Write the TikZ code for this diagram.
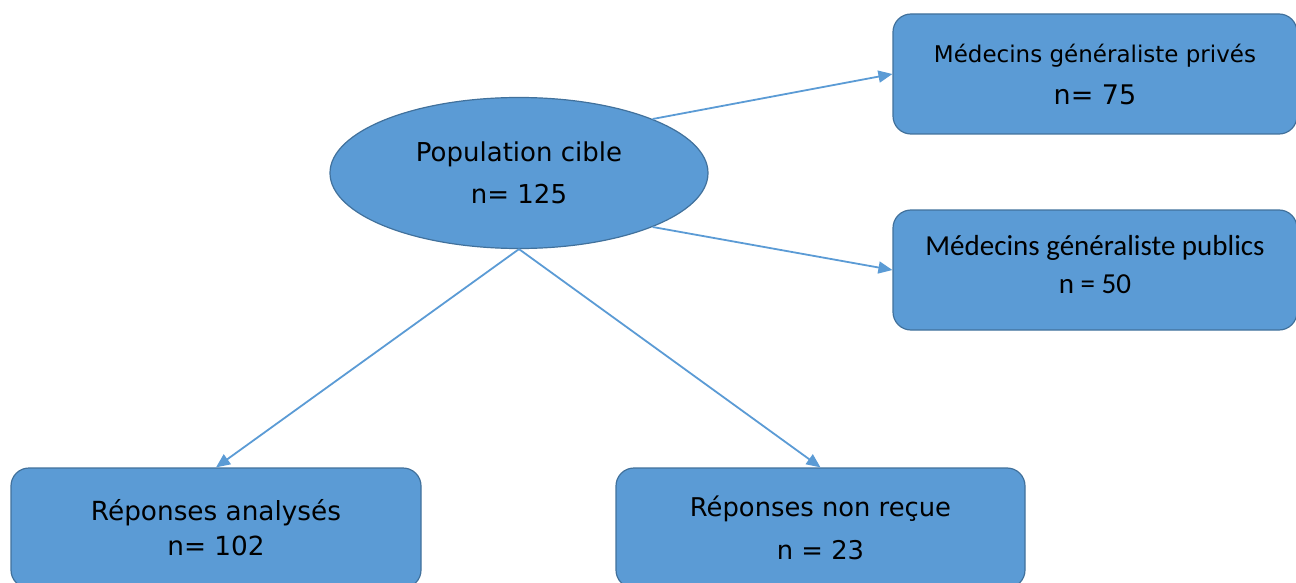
\documentclass[tikz,border=0pt]{standalone}
\usepackage{fontspec}
\setmainfont{DejaVu Sans}
\newfontfamily\calibri{Carlito}
\usepackage{tikz}
\usetikzlibrary{positioning, arrows.meta, shapes.geometric}
\definecolor{Box}{HTML}{5B9BD5}
\definecolor{BoxLine}{HTML}{41719C}

\begin{document}
\begin{tikzpicture}[
      x=1pt, y=1pt,
      card/.style={
        draw=BoxLine, line width=1.2pt, rounded corners=18pt,
        fill=Box, text=black, align=center,
        minimum width=404pt, minimum height=120pt, inner sep=0pt
      },
      bubble/.style={
        ellipse, draw=BoxLine, line width=1.2pt, fill=Box,
        align=center, minimum width=378pt, minimum height=151pt, inner sep=0pt
      },
      link/.style={
        draw=Box, line width=1.8pt, -{Triangle[length=14pt, width=12pt]}
      }
    ]
      \useasboundingbox (0,0) rectangle (1296,-583);
      \clip (0,0) rectangle (1296,-583);

      \node[bubble, font={\fontsize{26}{42}\selectfont}] (pop) at (519,-173)
        {Population cible\\ n= 125};
      \node[card, font={\fontsize{23}{42}\selectfont}] (priv) at (1095,-74)
        {Médecins généraliste privés\\ {\fontsize{27}{42}\selectfont n= 75}};
      \node[card, font={\calibri\fontsize{29}{38}\selectfont}] (pub) at (1095,-270)
        {Médecins généraliste publics\\ n = 50\rule[-12pt]{0pt}{0pt}};
      \node[card, minimum width=410pt, font={\fontsize{26.3}{35}\selectfont}] (ana) at (216,-528)
        {Réponses analysés\\ n= 102};
      \node[card, minimum width=409pt, font={\fontsize{25.8}{43}\selectfont}] (nrec) at (820.5,-528)
        {Réponses non reçue\\ n = 23};

      \draw[link] (pop.22) -- (priv.west);
      \draw[link] (pop.-22) -- (pub.west);
      \draw[link] (pop.south) -- (ana.north);
      \draw[link] (pop.south) -- (nrec.north);
    \end{tikzpicture}
\end{document}
